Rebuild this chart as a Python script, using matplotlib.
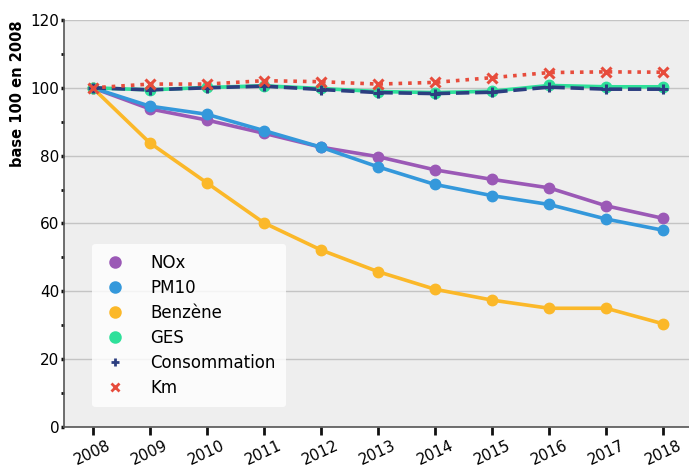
import numpy as np
import matplotlib
matplotlib.use("Agg")
import matplotlib.pyplot as plt
from matplotlib.lines import Line2D
from matplotlib.ticker import MultipleLocator

years = [2008, 2009, 2010, 2011, 2012, 2013, 2014, 2015, 2016, 2017, 2018]
nox = [100, 93.8, 90.5, 86.6, 82.5, 79.7, 75.8, 73.0, 70.5, 65.2, 61.5]
pm10 = [100, 94.6, 92.2, 87.4, 82.5, 76.7, 71.5, 68.2, 65.6, 61.3, 58.0]
benzene = [100, 83.8, 72.0, 60.2, 52.2, 45.8, 40.6, 37.4, 35.0, 35.0, 30.4]
ges = [100, 99.4, 100.1, 100.6, 99.8, 98.9, 98.6, 99.0, 100.7, 100.3, 100.3]
conso = [100, 99.4, 100.0, 100.5, 99.5, 98.6, 98.3, 98.7, 100.2, 99.6, 99.6]
km = [100, 101.1, 101.1, 102.1, 101.8, 101.1, 101.6, 103.0, 104.5, 104.7, 104.6]

series = [
    ("NOx", nox, "#9b59b6", "-", "o"),
    ("PM10", pm10, "#3498db", "-", "o"),
    ("Benzène", benzene, "#fbb829", "-", "o"),
    ("GES", ges, "#2ee09a", "-", "o"),
    ("Consommation", conso, "#2c3e80", "--", "+"),
    ("Km", km, "#e74c3c", ":", "x"),
]


def main():
    fig = plt.figure(figsize=(6.89, 4.69), dpi=100)
    ax = fig.add_axes([0.093, 0.0896, 0.907, 0.8678])
    ax.set_facecolor("#eeeeee")

    handles = []
    for name, vals, col, ls, mk in series:
        if mk == "o":
            ax.plot(years, vals, color=col, linestyle=ls, linewidth=2.6,
                    marker="o", markersize=7.5)
            hs = 7
        else:
            ax.plot(years, vals, color=col, linestyle=ls, linewidth=2.6,
                    marker=mk, markersize=7, markeredgewidth=2.2)
            hs = 6
        handles.append(Line2D([], [], color=col, linestyle="none", marker=mk,
                              markersize=hs, markeredgewidth=2, label=name))

    ax.set_xlim(2007.5, 2018.45)
    ax.set_ylim(0, 120)
    ax.set_xticks(years)
    ax.set_xticklabels([str(y) for y in years], rotation=25, fontsize=11)
    ax.yaxis.set_major_locator(MultipleLocator(20))
    ax.yaxis.set_minor_locator(MultipleLocator(10))
    ax.tick_params(axis="y", labelsize=11, direction="out", length=2.5,
                   width=2.5, color="#111111", pad=1)
    ax.tick_params(axis="y", which="minor", length=2, width=2, color="#111111")
    ax.tick_params(axis="x", direction="out", length=6, width=2, color="#111111",
                   pad=2)
    ax.grid(axis="y", color="#c4c4c4", linewidth=1)
    ax.set_axisbelow(True)
    for s in ["top", "right"]:
        ax.spines[s].set_visible(False)
    for s in ["left", "bottom"]:
        ax.spines[s].set_color("#555555")
        ax.spines[s].set_linewidth(1.2)

    ax.set_ylabel("base 100 en 2008", fontsize=10.5, fontweight="bold", loc="top",
                  labelpad=4)

    ax.legend(handles=handles, loc="lower left",
              bbox_to_anchor=(0.045, 0.049), borderaxespad=0,
              fontsize=12, frameon=True, framealpha=0.8,
              edgecolor="none", facecolor="white", labelspacing=0.42,
              handletextpad=1.4, borderpad=0.6, handlelength=1.5)

    fig.savefig("out.png", dpi=100)


if __name__ == "__main__":
    main()
